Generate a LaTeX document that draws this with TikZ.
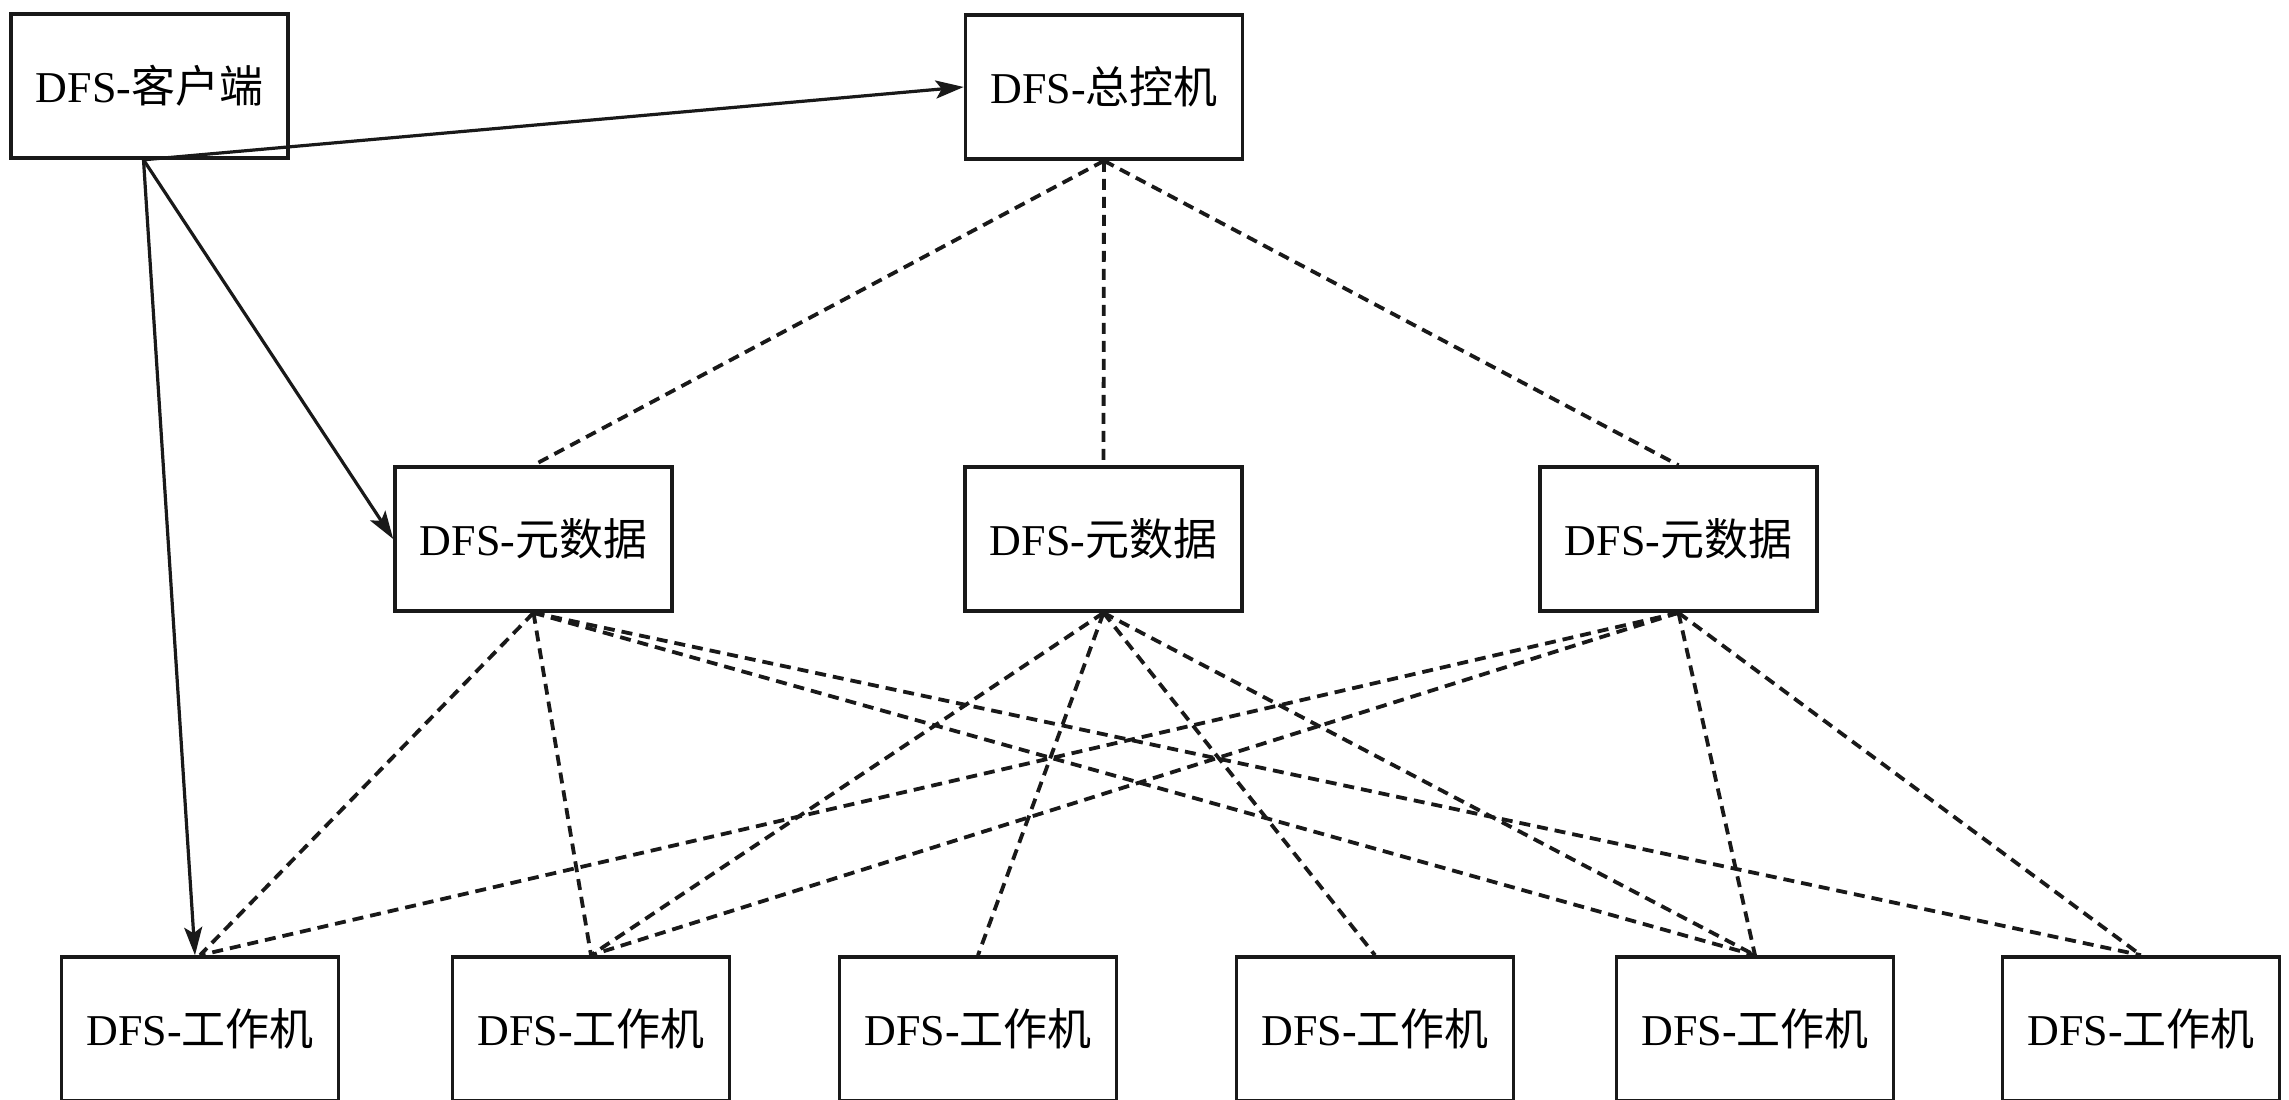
\documentclass[tikz,border=0pt]{standalone}
\usepackage{fontspec}
\setmainfont{Liberation Serif}
\newfontfamily\cjk{Noto Sans CJK SC}
\usetikzlibrary{arrows.meta}

\tikzset{
  box/.style={draw=black!90, line width=3.6pt, fill=white, rectangle,
    minimum width=277pt, minimum height=144pt, inner sep=0pt,
    font=\fontsize{44}{50}\selectfont},
  flow/.style={draw=black!90, line width=3.2pt,
    -{Stealth[length=28pt,width=18pt,inset=6pt]}},
  link/.style={draw=black!90, line width=3.8pt, dash pattern=on 11pt off 7pt},
}

\begin{document}
\begin{tikzpicture}[x=1pt, y=-1pt]
  \path[use as bounding box, clip] (0,0) rectangle (2289,1100);
  \fill[white] (0,0) rectangle (2289,1100);

  % top row
  \node[box] (client) at (149.5,86)  {DFS-{\cjk 客户端}};
  \node[box] (master) at (1104,87)   {DFS-{\cjk 总控机}};

  % metadata servers
  \node[box] (meta1) at (533.5,539)  {DFS-{\cjk 元数据}};
  \node[box] (meta2) at (1103.5,539) {DFS-{\cjk 元数据}};
  \node[box] (meta3) at (1678.5,539) {DFS-{\cjk 元数据}};

  % worker machines
  \node[box] (w1) at (200,1029)  {DFS-{\cjk 工作机}};
  \node[box] (w2) at (591,1029)  {DFS-{\cjk 工作机}};
  \node[box] (w3) at (978,1029)  {DFS-{\cjk 工作机}};
  \node[box] (w4) at (1375,1029) {DFS-{\cjk 工作机}};
  \node[box] (w5) at (1755,1029) {DFS-{\cjk 工作机}};
  \node[box] (w6) at (2141,1029) {DFS-{\cjk 工作机}};

  % master to metadata
  \draw[link] (master.south) -- (meta1.north);
  \draw[link] (master.south) -- (meta2.north);
  \draw[link] (master.south) -- (meta3.north);

  % metadata to workers
  \foreach \w in {w1,w2,w5,w6} \draw[link] (meta1.south) -- (\w.north);
  \foreach \w in {w2,w3,w4,w5} \draw[link] (meta2.south) -- (\w.north);
  \foreach \w in {w1,w2,w5,w6} \draw[link] (meta3.south) -- (\w.north);

  % client requests
  \coordinate (cs) at ([xshift=-6pt]client.south);
  \draw[flow] (cs) -- (master.west);
  \draw[flow] (cs) -- (meta1.west);
  \draw[flow] (cs) -- ([xshift=-5pt]w1.north);
\end{tikzpicture}
\end{document}
